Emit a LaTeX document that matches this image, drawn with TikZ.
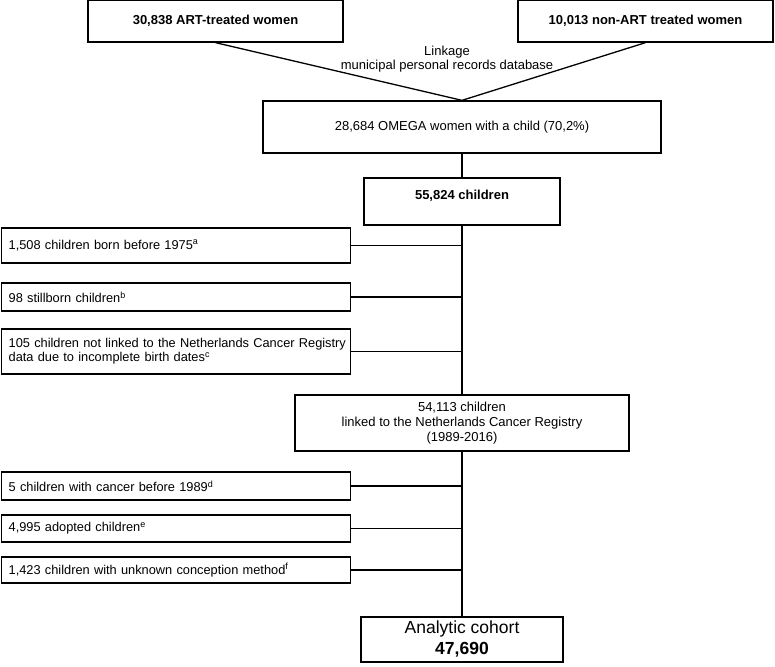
\documentclass[tikz,border=0pt]{standalone}
\usepackage{fontspec}
\setmainfont{Liberation Sans}
\usetikzlibrary{positioning,calc}
\tikzset{
  flowbox/.style={draw, line width=1.3pt, align=center, inner sep=0pt, font=\fontsize{13}{15}\selectfont},
  exclbox/.style={draw, line width=1.3pt, anchor=west, align=left, text width=335pt, inner xsep=7pt, inner ysep=0pt, font=\fontsize{12.8}{14}\selectfont},
  link/.style={line width=1.3pt}
}

\begin{document}
\begin{tikzpicture}[x=1pt,y=-1pt]
\useasboundingbox (0,0) rectangle (775,666);
\node[flowbox, minimum width=255pt, minimum height=42pt] (art) at (215.5,21) {\textbf{30,838 ART-treated women}};
\node[flowbox, minimum width=255pt, minimum height=42pt] (nonart) at (645.5,21) {\textbf{10,013 non-ART treated women}};
\node[align=center, font=\fontsize{13}{14}\selectfont] (linkage) at (447,59) {Linkage\\municipal personal records database};
\node[flowbox, minimum width=398pt, minimum height=52pt] (omega) at (462,127) {28,684 OMEGA women with a child (70,2\%)};
\node[flowbox, minimum width=196pt, minimum height=47pt, text depth=13pt] (children) at (462,201.5) {\textbf{55,824 children}};
% excluded before linkage
\node[exclbox, minimum height=35pt] (born) at (1,245.5) {1,508 children born before 1975\textsuperscript{a}};
\node[exclbox, minimum height=28pt] (still) at (1,297) {98 stillborn children\textsuperscript{b}};
\node[exclbox, minimum height=45pt] (nolink) at (1,351.5) {\mbox{105 children not linked to the Netherlands Cancer Registry}\\data due to incomplete birth dates\textsuperscript{c}};
\node[flowbox, minimum width=334pt, minimum height=56pt] (linked) at (462,423) {54,113 children\\linked to the Netherlands Cancer Registry\\(1989-2016)};
% excluded after linkage
\node[exclbox, minimum height=28pt] (cancer) at (1,486) {5 children with cancer before 1989\textsuperscript{d}};
\node[exclbox, minimum height=27pt] (adopted) at (1,528.5) {4,995 adopted children\textsuperscript{e}};
\node[exclbox, minimum height=26pt] (unknown) at (1,570) {1,423 children with unknown conception method\textsuperscript{f}};
\node[flowbox, minimum width=202pt, minimum height=45pt, font=\fontsize{17.5}{21}\selectfont] (cohort) at (462,639.5) {Analytic cohort\\\textbf{47,690}};

\draw[link] (art.south) -- (omega.north);
\draw[link] (nonart.south) -- (omega.north);
\draw[link] (omega.south) -- (children.north);
\draw[link] (children.south) -- (linked.north);
\draw[link] (linked.south) -- (cohort.north);
\foreach \n in {born,still,nolink}
  \draw[link] (\n.east) -- (\n.east -| children.south);
\foreach \n in {cancer,adopted,unknown}
  \draw[link] (\n.east) -- (\n.east -| linked.south);
\end{tikzpicture}
\end{document}
